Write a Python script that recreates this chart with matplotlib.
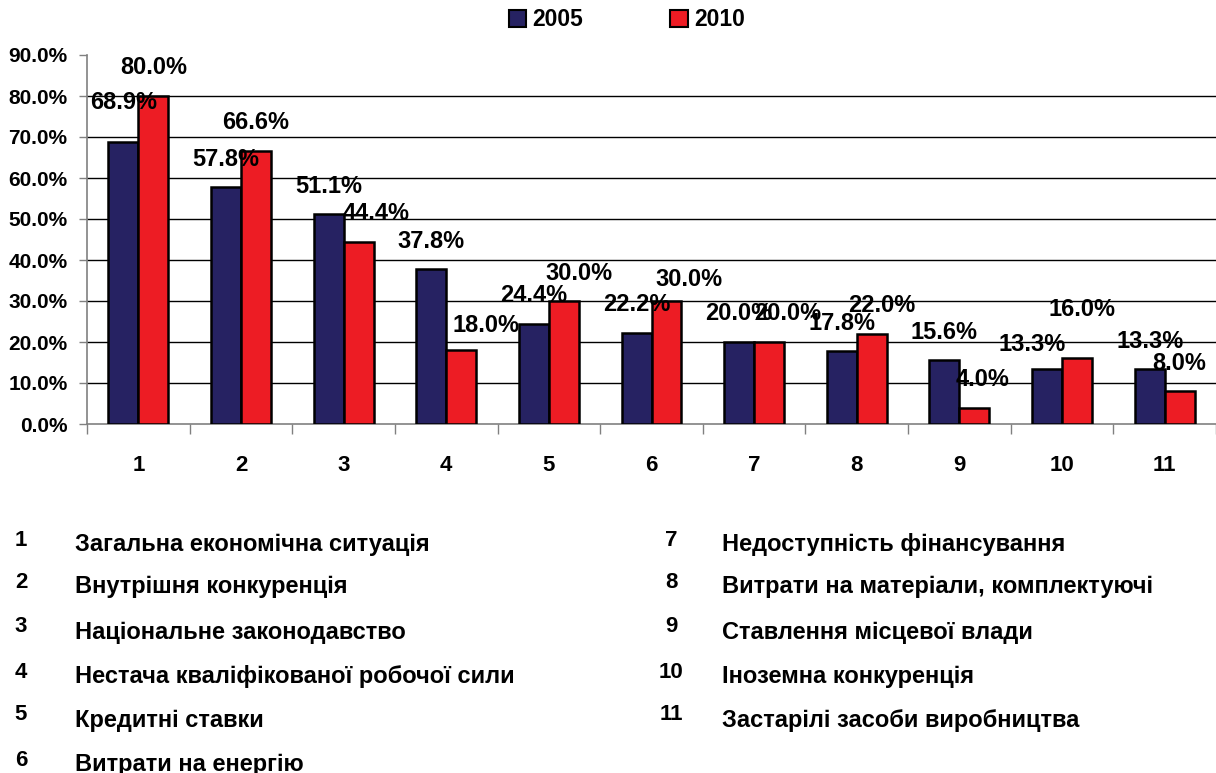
import matplotlib
matplotlib.use("Agg")
import matplotlib.pyplot as plt
from matplotlib.patches import Patch
import numpy as np

categories = ["1", "2", "3", "4", "5", "6", "7", "8", "9", "10", "11"]
v2005 = [68.9, 57.8, 51.1, 37.8, 24.4, 22.2, 20.0, 17.8, 15.6, 13.3, 13.3]
v2010 = [80.0, 66.6, 44.4, 18.0, 30.0, 30.0, 20.0, 22.0, 4.0, 16.0, 8.0]
series_names = ["2005", "2010"]
yticks = [0, 10, 20, 30, 40, 50, 60, 70, 80, 90]
descriptions = [
    "Загальна економічна ситуація",
    "Внутрішня конкуренція",
    "Національне законодавство",
    "Нестача кваліфікованої робочої сили",
    "Кредитні ставки",
    "Витрати на енергію",
    "Недоступність фінансування",
    "Витрати на матеріали, комплектуючі",
    "Ставлення місцевої влади",
    "Іноземна конкуренція",
    "Застарілі засоби виробництва",
]

# manual label nudges (pixels: dx, dy) as in the original chart
label_nudge_2005 = {0: (0, 11), 9: (-15, -3)}
label_nudge_2010 = {2: (18, 0), 3: (25, -3), 4: (15, 0), 5: (22, -6),
                    6: (19, 0), 7: (10, 0), 8: (8, 0), 9: (5, 21)}

plt.rcParams['font.family'] = ['Liberation Sans', 'DejaVu Sans']
plt.rcParams['font.weight'] = 'bold'

W, H = 1216, 773
fig = plt.figure(figsize=(W / 100, H / 100), dpi=100)
ax = fig.add_axes([87 / W, (H - 424) / H, (W - 87) / W, (424 - 55) / H])

BLUE = "#262262"
RED = "#ED1C24"
x = np.arange(len(categories))
bw = 0.292
b1 = ax.bar(x - bw / 2, v2005, bw, color=BLUE, edgecolor="black", linewidth=1.8, zorder=3)
b2 = ax.bar(x + bw / 2, v2010, bw, color=RED, edgecolor="black", linewidth=1.8, zorder=3)

for bars, vals, nudge in ((b1, v2005, label_nudge_2005), (b2, v2010, label_nudge_2010)):
    for i, (r, v) in enumerate(zip(bars, vals)):
        dx, dy = nudge.get(i, (0, 0))
        ax.annotate(f"{v:.1f}%", (r.get_x() + r.get_width() / 2, v),
                    xytext=(dx, 28 + dy), textcoords="offset pixels",
                    ha="center", va="center", fontsize=17, fontweight="bold", zorder=5)

ax.set_xlim(-0.5, len(categories) - 0.5)
ax.set_ylim(0, 90)
ax.set_yticks(yticks)
ax.set_yticklabels([f"{t:.1f}%" for t in yticks])
ax.set_xticks(x)
ax.set_xticklabels(categories)
ax.set_xticks(np.arange(len(categories) + 1) - 0.5, minor=True)
ax.tick_params(axis="x", which="major", length=0, pad=22, labelsize=16)
ax.tick_params(axis="x", which="minor", length=7, width=1, color="#808080", direction="out")
ax.tick_params(axis="y", length=6, width=1, color="#808080", pad=8, labelsize=15)
for lab in ax.get_xticklabels() + ax.get_yticklabels():
    lab.set_fontweight("bold")

for t in yticks[1:-1]:
    ax.axhline(t, color="black", linewidth=1, zorder=1)

for s in ("top", "right"):
    ax.spines[s].set_visible(False)
for s in ("left", "bottom"):
    ax.spines[s].set_color("#808080")
    ax.spines[s].set_linewidth(1.2)

handles = [Patch(facecolor=BLUE, edgecolor="black", linewidth=1.5),
           Patch(facecolor=RED, edgecolor="black", linewidth=1.5)]
fig.legend(handles, series_names, loc="center", bbox_to_anchor=(627 / W, 1 - 20 / H),
           ncol=2, frameon=False, handlelength=0.75, handleheight=0.75,
           handletextpad=0.3, columnspacing=3.8,
           prop={"family": "Liberation Sans", "weight": "bold", "size": 16.5})

rows_y = [545, 587, 632, 677, 720, 765]
for i, d in enumerate(descriptions):
    if i < 6:
        nx, tx, yy = 21, 75, rows_y[i]
    else:
        nx, tx, yy = 671, 722, rows_y[i - 6]
    fig.text(nx / W, 1 - (yy - 5) / H, categories[i], ha="center", va="center",
             fontsize=16, fontweight="bold")
    fig.text(tx / W, 1 - yy / H, d, ha="left", va="center",
             fontsize=17, fontweight="bold")

fig.savefig("out.png", dpi=100)
